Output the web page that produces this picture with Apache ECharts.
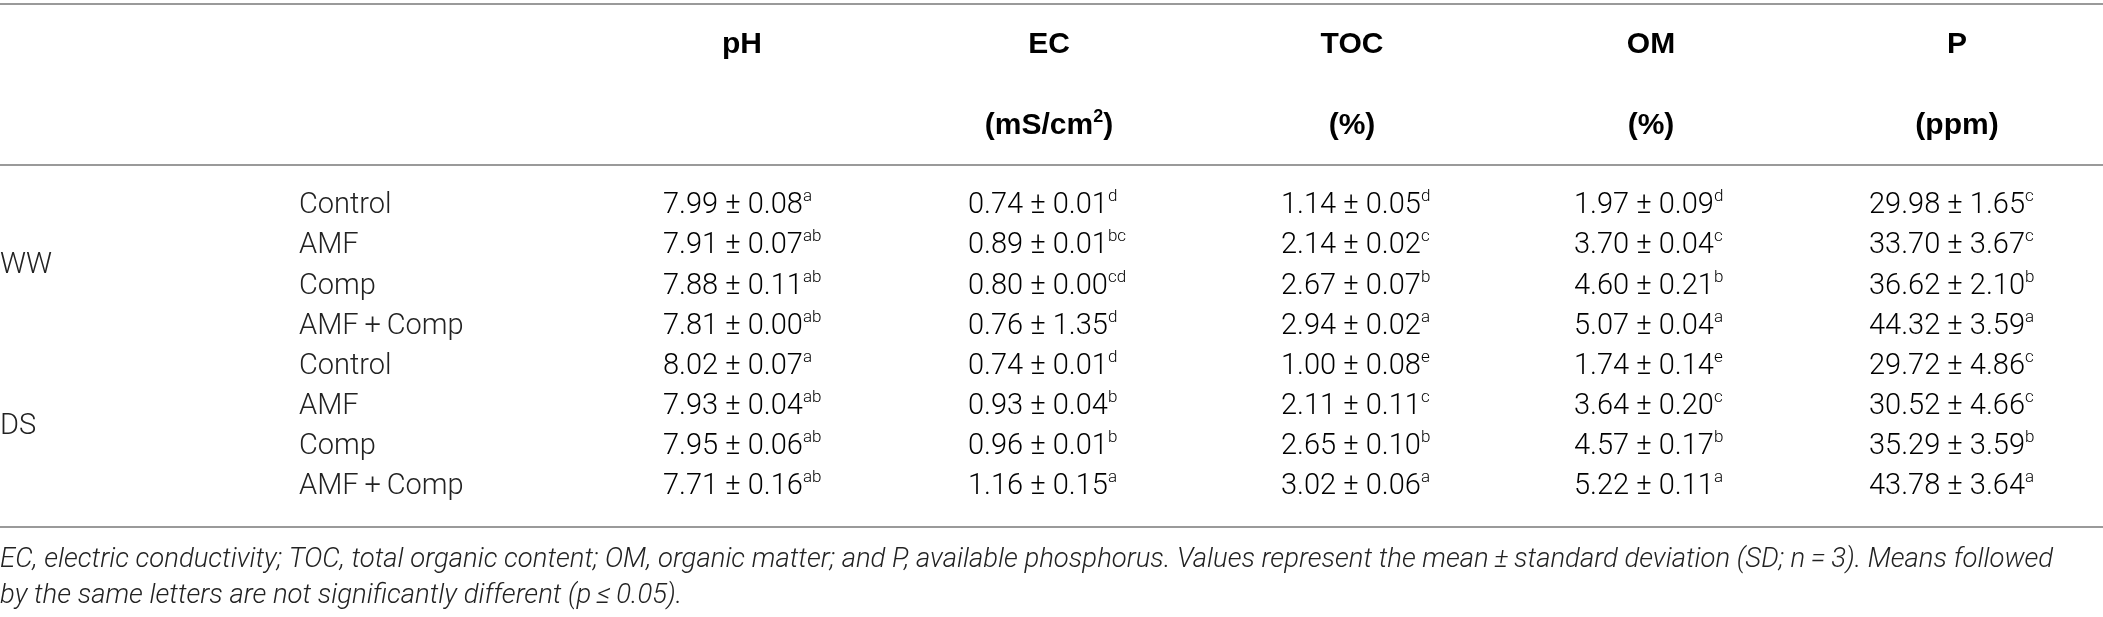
<!DOCTYPE html>
<html>
<head>
<meta charset="utf-8">
<script src="https://cdn.jsdelivr.net/npm/echarts@6/dist/echarts.min.js"></script>
<style>
html, body { margin: 0; padding: 0; background: #fff; }
#chart { width: 2103px; height: 617px; }
</style>
</head>
<body>
<div id="chart"></div>
<script>
////////////////////////////////////////////////////////////////
// data
const groups = ['WW', 'DS'];
const treatments = ['Control', 'AMF', 'Comp', 'AMF\u2009+\u2009Comp'];
const variables = ['pH', 'EC', 'TOC', 'OM', 'P'];
const units = ['', '(mS/cm²)', '(%)', '(%)', '(ppm)'];

// [mean, sd, letters], rows: WW Control, AMF, Comp, AMF+Comp, then DS the same
const pH = [[7.99, 0.08, 'a'], [7.91, 0.07, 'ab'], [7.88, 0.11, 'ab'], [7.81, 0.00, 'ab'],
            [8.02, 0.07, 'a'], [7.93, 0.04, 'ab'], [7.95, 0.06, 'ab'], [7.71, 0.16, 'ab']];
const EC = [[0.74, 0.01, 'd'], [0.89, 0.01, 'bc'], [0.80, 0.00, 'cd'], [0.76, 1.35, 'd'],
            [0.74, 0.01, 'd'], [0.93, 0.04, 'b'], [0.96, 0.01, 'b'], [1.16, 0.15, 'a']];
const TOC = [[1.14, 0.05, 'd'], [2.14, 0.02, 'c'], [2.67, 0.07, 'b'], [2.94, 0.02, 'a'],
             [1.00, 0.08, 'e'], [2.11, 0.11, 'c'], [2.65, 0.10, 'b'], [3.02, 0.06, 'a']];
const OM = [[1.97, 0.09, 'd'], [3.70, 0.04, 'c'], [4.60, 0.21, 'b'], [5.07, 0.04, 'a'],
            [1.74, 0.14, 'e'], [3.64, 0.20, 'c'], [4.57, 0.17, 'b'], [5.22, 0.11, 'a']];
const P = [[29.98, 1.65, 'c'], [33.70, 3.67, 'c'], [36.62, 2.10, 'b'], [44.32, 3.59, 'a'],
           [29.72, 4.86, 'c'], [30.52, 4.66, 'c'], [35.29, 3.59, 'b'], [43.78, 3.64, 'a']];
const values = [pH, EC, TOC, OM, P];

const footnote = [
    'EC, electric conductivity; TOC, total organic content; OM, organic matter; and P, available phosphorus. Values represent the mean\u2009±\u2009standard deviation (SD; n\u2009=\u20093). Means followed',
    'by the same letters are not significantly different (p\u2009≤\u20090.05).'
];

////////////////////////////////////////////////////////////////
// layout
const W = 2103;
const colX = [0, 299, 663, 968, 1281, 1574, 1869];     // group, treatment, then left edge of each value column
const headX = [742, 1049, 1352, 1651, 1957];           // header centres
const lineY = [4, 165, 527];
const headY = [45, 126];
const rowTop = 186, rowH = 40.1;
const noteY = [560, 596];

const ink = '#222';
const bodyFont = 'Roboto';
const bodySize = 29;
const headFont = "'Liberation Sans', Arial, sans-serif";

const rows = [];
groups.forEach((g) => treatments.forEach((t) => rows.push(g + ' ' + t)));

const cells = [];
for (let r = 0; r < rows.length; r++) {
    for (let c = 0; c < 2 + variables.length; c++) {
        cells.push([c, r]);
    }
}

const supRich = {
    m: { fontSize: bodySize, fontFamily: bodyFont, fontWeight: 300, lineHeight: 35, color: ink },
    s: { fontSize: 17, fontFamily: bodyFont, fontWeight: 300, lineHeight: 20, color: ink, verticalAlign: 'top' }
};

function plain(text) {
    return { text: text, fill: ink, fontSize: bodySize, fontFamily: bodyFont, fontWeight: 300, align: 'left', verticalAlign: 'middle' };
}

function renderCell(params, api) {
    const c = api.value(0), r = api.value(1);
    const pt = api.coord([colX[c], r]);
    if (c === 0) {
        // group label sits between the 2nd and 3rd row of its block
        if (r % treatments.length !== 0) return;
        const y = (api.coord([0, r + 1])[1] + api.coord([0, r + 2])[1]) / 2;
        return { type: 'text', x: pt[0], y: y, style: plain(groups[r / treatments.length]) };
    }
    if (c === 1) {
        return { type: 'text', x: pt[0], y: pt[1], style: plain(treatments[r % treatments.length]) };
    }
    const v = values[c - 2][r];
    const main = v[0].toFixed(2) + ' ± ' + v[1].toFixed(2);
    return {
        type: 'text', x: pt[0], y: pt[1],
        style: { text: '{m|' + main + '}{s|' + v[2] + '}', rich: supRich, align: 'left', verticalAlign: 'middle' }
    };
}

////////////////////////////////////////////////////////////////
// header, rules and footnote
const graphics = [];
lineY.forEach((y) => graphics.push({
    type: 'line', shape: { x1: 0, y1: y, x2: W, y2: y },
    style: { stroke: '#9a9a9a', lineWidth: 2 }
}));

const headRich = {
    h: { fontSize: 30, fontFamily: headFont, fontWeight: 'bold', lineHeight: 36, color: '#111' },
    s: { fontSize: 18, fontFamily: headFont, fontWeight: 'bold', lineHeight: 20, color: '#111', verticalAlign: 'top' }
};
variables.forEach((name, i) => {
    graphics.push({
        type: 'text', x: headX[i], y: headY[0],
        style: { text: '{h|' + name + '}', rich: headRich, align: 'center', verticalAlign: 'middle' }
    });
    if (units[i]) {
        const parts = units[i].split('²');
        const txt = parts.length > 1 ? '{h|' + parts[0] + '}{s|2}{h|' + parts[1] + '}' : '{h|' + units[i] + '}';
        graphics.push({
            type: 'text', x: headX[i], y: headY[1],
            style: { text: txt, rich: headRich, align: 'center', verticalAlign: 'middle' }
        });
    }
});

footnote.forEach((line, i) => graphics.push({
    type: 'text', x: 0, y: noteY[i],
    style: { text: line, fill: ink, fontSize: 27.5, fontFamily: bodyFont, fontWeight: 300, fontStyle: 'italic', align: 'left', verticalAlign: 'middle' }
}));

////////////////////////////////////////////////////////////////
// chart
var chartDom = document.getElementById('chart');
var myChart = echarts.init(chartDom);

var option = {
    animation: false,
    backgroundColor: '#fff',
    grid: { left: 0, top: rowTop, width: W, height: rowH * rows.length },
    xAxis: { type: 'value', min: 0, max: W, show: false },
    yAxis: { type: 'category', data: rows, inverse: true, show: false },
    graphic: graphics,
    series: [{
        type: 'custom',
        renderItem: renderCell,
        data: cells,
        silent: true
    }]
};

myChart.setOption(option);
</script>
</body>
</html>
